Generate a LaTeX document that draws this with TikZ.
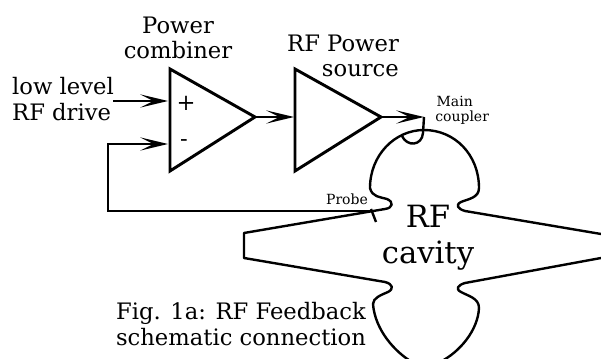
\documentclass[tikz,border=0pt]{standalone}
\usepackage{fontspec}
\setmainfont{DejaVu Serif}
\usetikzlibrary{arrows.meta}
\tikzset{
	wire/.style={draw=black,line width=1.8pt},
	feed/.style={wire,-{Stealth[length=21pt,width=10pt,inset=10pt,line width=0pt]}},
	amp/.style={draw=black,line width=2.2pt,line join=miter},
	body/.style={draw=black,line width=1.8pt,line join=round},
	labelbig/.style={inner sep=0pt,align=center,font=\fontsize{17}{19}\selectfont},
	labelsmall/.style={inner sep=0pt,align=left,font=\fontsize{10.5}{11.5}\selectfont}
}
\begin{document}
\begin{tikzpicture}[x=0.75pt,y=-0.75pt]
	\useasboundingbox (0,0) rectangle (601,359);

	% amplifiers
	\coordinate (P1) at (170,69);
	\coordinate (P2) at (170,171);
	\coordinate (P3) at (255,117);
	\coordinate (S1) at (295,69);
	\coordinate (S2) at (295,171);
	\coordinate (S3) at (381,117);
	\draw [amp] (P1) -- (P2) -- (P3) -- cycle;
	\draw [amp] (S1) -- (S2) -- (S3) -- cycle;

	\node [labelbig] (plus) at (186,103) {+};
	\node [labelbig] (minus) at (184,143) {-};

	% texts
	\node [labelbig] (combiner) at (178,38) {Power\\combiner};
	\node [labelbig,align=right] (source) at (343,56) {RF Power\\source};
	\node [labelbig,align=left] (drive) at (63,99) {low level\\RF drive};
	\node [labelsmall,anchor=west] (main) at (435,110) {\hspace*{1pt}Main\\coupler};
	\node [labelsmall] (probe) at (347,199) {Probe};
	\node [inner sep=0pt,align=center,font=\fontsize{23}{27}\selectfont] (cavity) at (428,238) {RF\\cavity};
	\node [labelbig,align=left] (caption) at (241,324) {Fig. 1a: RF Feedback\\schematic connection};

	% connections
	\coordinate (in) at (113,101);
	\coordinate (plusin) at (168,101);
	\coordinate (fb1) at (108,144);
	\coordinate (fb2) at (108,211);
	\coordinate (fb3) at (372,211);
	\coordinate (minusin) at (168,144);
	\coordinate (Sin) at (294,117);
	\coordinate (C1) at (424,117);
	\coordinate (C2) at (423,133);
	\coordinate (C3) at (402,136);
	\coordinate (probe1) at (371,209);
	\coordinate (probe2) at (376,222);
	\draw [feed] (in) -- (plusin);
	\draw [feed] (fb3) -- (fb2) -- (fb1) -- (minusin);
	\draw [feed] (P3) -- (Sin);
	\draw [feed] (S3) -- (C1);

	% coupling loop and probe
	\draw [wire] (C1) -- (C2) .. controls (422,146) and (407,147) .. (C3);
	\draw [wire] (probe1) -- (probe2);

	% cavity
	\draw [body] (601,234) -- (465,211)
		.. controls (458,209) and (455,205) .. (461,202)
		.. controls (468,199) and (479,198) .. (479,188)
		.. controls (479,155) and (455,130) .. (424,130)
		.. controls (395,130) and (370,155) .. (370,188)
		.. controls (372,197) and (380,197) .. (387,199)
		.. controls (394,202) and (393,208) .. (385,209)
		-- (244,233) -- (244,258) -- (385,282)
		.. controls (393,284) and (394,289) .. (388,292)
		.. controls (381,295) and (373,298) .. (373,304)
		.. controls (375,330) and (395,352) .. (412,362);
	\draw [body] (601,258) -- (465,283)
		.. controls (458,285) and (455,289) .. (461,292)
		.. controls (468,296) and (479,298) .. (479,308)
		.. controls (478,330) and (460,352) .. (440,362);
\end{tikzpicture}
\end{document}
